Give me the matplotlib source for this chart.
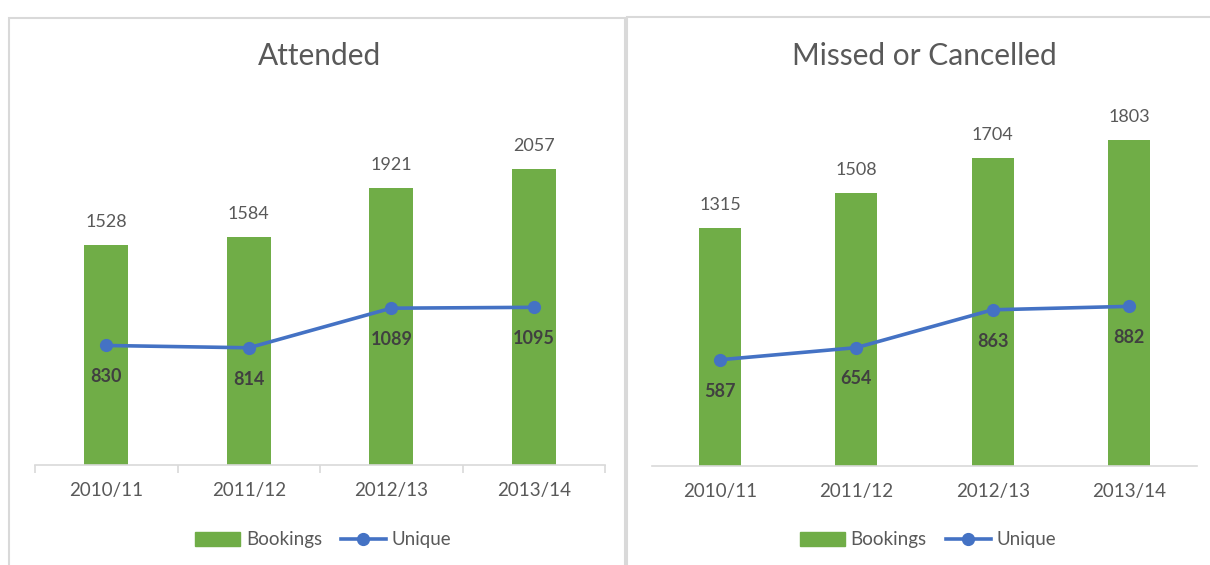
import matplotlib
matplotlib.use("Agg")
import matplotlib.pyplot as plt
import numpy as np
from matplotlib.patches import Rectangle
from matplotlib.lines import Line2D

years = ["2010/11", "2011/12", "2012/13", "2013/14"]
attended_bookings = [1528, 1584, 1921, 2057]
attended_unique = [830, 814, 1089, 1095]
missed_bookings = [1315, 1508, 1704, 1803]
missed_unique = [587, 654, 863, 882]

GREEN = "#70AD47"
BLUE = "#4472C4"
TXT = "#595959"
GRID = "#D9D9D9"

plt.rcParams["font.family"] = ["Lato", "DejaVu Sans"]

W, H = 1210, 565
fig = plt.figure(figsize=(W / 100, H / 100), dpi=100)


def px_box(x0, y0, x1, y1):
    # pixel box (top-left origin) -> figure fraction rect
    return [x0 / W, 1 - y1 / H, (x1 - x0) / W, (y1 - y0) / H]


def panel(frame, plot, title, title_x, bookings, unique, ymax, legend_x, ticks):
    fx0, fy0, fx1, fy1 = frame
    fig.patches.append(Rectangle((fx0 / W, 1 - fy1 / H), (fx1 - fx0) / W, (fy1 - fy0) / H,
                                 transform=fig.transFigure, facecolor="white",
                                 edgecolor=GRID, lw=1.5, zorder=0))
    ax = fig.add_axes(px_box(*plot), zorder=2)
    ax.set_facecolor("none")
    x = np.arange(len(years))
    ax.bar(x, bookings, width=0.31, color=GREEN, zorder=2)
    ax.plot(x, unique, color=BLUE, lw=2.6, marker="o", ms=8.5, zorder=3)
    for xi, b, u in zip(x, bookings, unique):
        ax.annotate(str(b), (xi, b), xytext=(0, 16.5), textcoords="offset points",
                    ha="center", va="center", fontsize=13, color=TXT)
        ax.annotate(str(u), (xi, u), xytext=(0, -22.5), textcoords="offset points",
                    ha="center", va="center", fontsize=13, color="#404040",
                    fontweight="bold")
    ax.set_xlim(-0.5, len(years) - 0.5)
    ax.set_ylim(0, ymax)
    for s in ["top", "right", "left"]:
        ax.spines[s].set_visible(False)
    ax.spines["bottom"].set_color(GRID)
    ax.spines["bottom"].set_linewidth(1.2)
    ax.set_yticks([])
    ax.set_xticks(x)
    ax.set_xticklabels(years, fontsize=13.5, color=TXT)
    ax.tick_params(axis="x", length=0, pad=12)
    if ticks:
        ax.set_xticks(np.arange(-0.5, len(years)), minor=True)
        ax.tick_params(axis="x", which="minor", length=6, color=GRID, width=1.2)
    fig.text(title_x / W, 1 - 56 / H, title, ha="center", va="center",
             fontsize=21.5, color=TXT, zorder=3)
    handles = [Rectangle((0, 0), 1, 1, color=GREEN),
               Line2D([], [], color=BLUE, lw=2.6, marker="o", ms=8.5)]
    leg = fig.legend(handles, ["Bookings", "Unique"], loc="center",
                     bbox_to_anchor=(legend_x / W, 1 - 540 / H), ncol=2, frameon=False,
                     fontsize=13.5, labelcolor=TXT, handlelength=2.4, handletextpad=0.3,
                     columnspacing=1.0)
    leg.set_zorder(3)
    return ax


panel((9, 18, 625, 575), (35, 105, 605, 465), "Attended", 320,
      attended_bookings, attended_unique, 2500, 323, True)
panel((627, 17, 1220, 575), (652, 104, 1197, 466), "Missed or Cancelled", 924,
      missed_bookings, missed_unique, 2000, 928, False)

fig.savefig("out.png", dpi=100)
